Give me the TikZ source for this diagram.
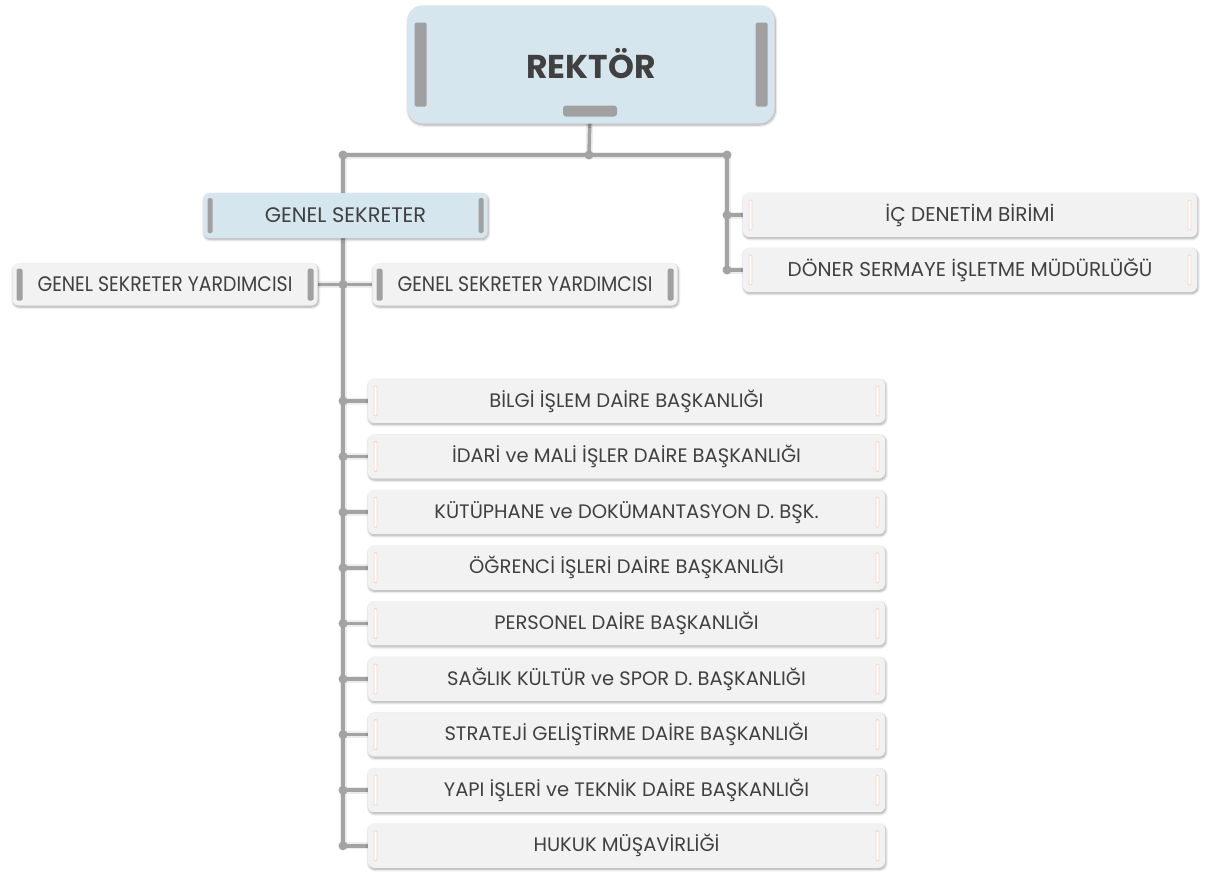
\documentclass[tikz,border=0pt]{standalone}
\usepackage{fontspec}
\setmainfont{Poppins}
\usetikzlibrary{backgrounds,shadows.blur}

\definecolor{boxblue}{HTML}{D6E6EF}
\definecolor{boxgray}{HTML}{F2F2F2}
\definecolor{linegray}{HTML}{A3A3A3}
\definecolor{bargray}{HTML}{A0A0A0}
\definecolor{barpeach}{HTML}{F5D6C3}
\definecolor{textgray}{HTML}{404040}

\newcommand{\barpair}[4]{%
  \path[#4] ([xshift=#1, yshift=-#3]path picture bounding box.north west) rectangle ([xshift=#1+#2, yshift=#3]path picture bounding box.south west);
  \path[#4] ([xshift=-#1, yshift=-#3]path picture bounding box.north east) rectangle ([xshift=-#1-#2, yshift=#3]path picture bounding box.south east);}

\tikzset{
  unit/.style={rounded corners=6pt, text=textgray, inner sep=0pt,
    blur shadow={shadow blur steps=8, shadow xshift=0.8pt, shadow yshift=-1.5pt, shadow opacity=35, shadow blur radius=2.5pt}},
  graybar/.style={fill=bargray, rounded corners=1.5pt},
  peachbar/.style={draw=barpeach, fill=white, line width=0.9pt, rounded corners=1pt},
  headbox/.style={unit, fill=boxblue, rounded corners=15pt, minimum width=367pt, minimum height=118pt,
    font=\bfseries\fontsize{33}{40}\selectfont, path picture={\barpair{7pt}{12pt}{17pt}{graybar}}},
  secbox/.style={unit, fill=boxblue, minimum width=284pt, minimum height=45pt,
    font=\fontsize{21}{25}\selectfont, path picture={\barpair{4pt}{5pt}{5pt}{graybar}}},
  asstbox/.style={unit, fill=boxgray, minimum width=305pt, minimum height=42pt,
    font=\fontsize{21}{25}\selectfont, path picture={\barpair{4pt}{6pt}{5pt}{graybar}}},
  unitbox/.style={unit, fill=boxgray, minimum width=454pt, minimum height=44pt,
    font=\fontsize{20}{24}\selectfont, path picture={\barpair{6pt}{3pt}{7pt}{peachbar}}},
  listbox/.style={unitbox, minimum width=517pt, font=\fontsize{19.5}{23}\selectfont},
  tabbar/.style={fill=bargray, rounded corners=3pt, minimum width=54pt, minimum height=11pt, inner sep=0pt},
  conn/.style={draw=linegray, line width=3.5pt, preaction={draw=black, opacity=0.07, line width=7pt}},
  dot/.style={circle, fill=linegray, inner sep=0pt, minimum size=9pt}
}

\begin{document}
\begin{tikzpicture}[x=1pt,y=-1pt]
\useasboundingbox (0,0) rectangle (1206,873);

\node[headbox] (rektor) at (591,64.5) {\raisebox{3pt}{REKTÖR}};
\node[tabbar] (tab) at (590,111) {};

\node[secbox] (gensek) at (345.5,215.5) {GENEL SEKRETER};
\node[asstbox] (gsyleft) at (165,284.5) {\scalebox{0.9}[1]{GENEL SEKRETER YARDIMCISI}};
\node[asstbox] (gsyright) at (525,284.5) {\scalebox{0.9}[1]{GENEL SEKRETER YARDIMCISI}};

\node[unitbox] (icdenetim) at (970,215) {İÇ DENETİM BİRİMİ};
\node[unitbox] (doner) at (970,270) {DÖNER SERMAYE İŞLETME MÜDÜRLÜĞÜ};

\node[listbox] (bilgi) at (626.5,401) {BİLGİ İŞLEM DAİRE BAŞKANLIĞI};
\node[listbox] (idari) at (626.5,456.6) {İDARİ ve MALİ İŞLER DAİRE BAŞKANLIĞI};
\node[listbox] (kutuphane) at (626.5,512.2) {KÜTÜPHANE ve DOKÜMANTASYON D. BŞK.};
\node[listbox] (ogrenci) at (626.5,567.8) {ÖĞRENCİ İŞLERİ DAİRE BAŞKANLIĞI};
\node[listbox] (personel) at (626.5,623.4) {PERSONEL DAİRE BAŞKANLIĞI};
\node[listbox] (saglik) at (626.5,679) {SAĞLIK KÜLTÜR ve SPOR D. BAŞKANLIĞI};
\node[listbox] (strateji) at (626.5,734.6) {STRATEJİ GELİŞTİRME DAİRE BAŞKANLIĞI};
\node[listbox] (yapi) at (626.5,790.2) {YAPI İŞLERİ ve TEKNİK DAİRE BAŞKANLIĞI};
\node[listbox] (hukuk) at (626.5,845.8) {HUKUK MÜŞAVİRLİĞİ};

\coordinate (hleft) at (343,155);
\coordinate (hmid) at (589,155);
\coordinate (hright) at (727,155);

\begin{pgfonlayer}{background}
\draw[conn] (tab) -- (hmid);
\draw[conn] (hleft) -- (hright);
\draw[conn] (hleft) -- (hleft |- hukuk.west);
\draw[conn] (hright) -- (hright |- doner.west);
\draw[conn] (gsyleft.east) -- (gsyright.west);
\draw[conn] (icdenetim.west) -- (icdenetim.west -| hright) node[dot] {};
\draw[conn] (doner.west) -- (doner.west -| hright) node[dot] {};
\draw[conn] (bilgi.west) -- (bilgi.west -| hleft) node[dot] {};
\draw[conn] (idari.west) -- (idari.west -| hleft) node[dot] {};
\draw[conn] (kutuphane.west) -- (kutuphane.west -| hleft) node[dot] {};
\draw[conn] (ogrenci.west) -- (ogrenci.west -| hleft) node[dot] {};
\draw[conn] (personel.west) -- (personel.west -| hleft) node[dot] {};
\draw[conn] (saglik.west) -- (saglik.west -| hleft) node[dot] {};
\draw[conn] (strateji.west) -- (strateji.west -| hleft) node[dot] {};
\draw[conn] (yapi.west) -- (yapi.west -| hleft) node[dot] {};
\draw[conn] (hukuk.west) -- (hukuk.west -| hleft) node[dot] {};
\node[dot] at (hleft |- gsyleft.east) {};
\node[dot] at (hleft) {};
\node[dot] at (hmid) {};
\node[dot] at (hright) {};
\end{pgfonlayer}
\end{tikzpicture}
\end{document}
